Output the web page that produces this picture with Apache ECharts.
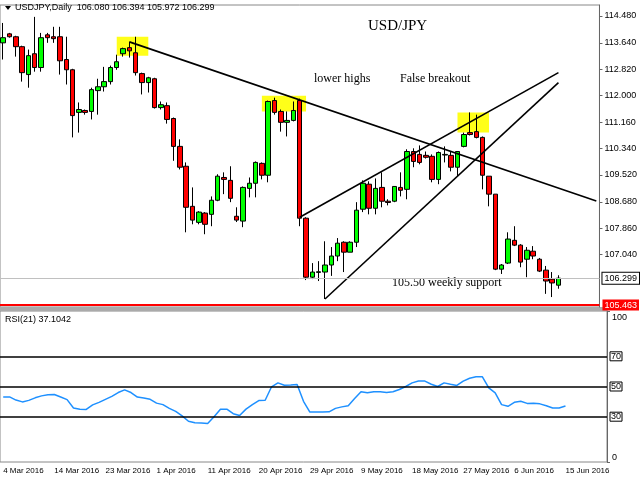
<!DOCTYPE html>
<html>
<head>
<meta charset="UTF-8">
<script src="https://cdn.jsdelivr.net/npm/echarts@6/dist/echarts.min.js"></script>
<style>html,body{margin:0;padding:0;background:#fff}#main{width:640px;height:480px}</style>
</head>
<body>
<div id="main"></div>
<script>
// candles: [open, close, low, high]
var candles = [
 [113.64,113.80,113.12,114.26],[113.92,113.83,113.80,113.95],[113.83,113.52,113.21,113.86],[113.52,112.71,112.43,113.55],
 [112.65,113.24,112.24,113.43],[113.30,112.87,112.74,114.45],[112.87,113.80,112.74,113.95],[113.89,113.80,113.64,113.95],
 [113.83,113.77,113.64,114.14],[113.83,113.08,112.65,114.14],[113.12,112.80,112.34,113.83],[112.80,111.37,110.69,112.83],
 [111.47,111.56,110.84,111.78],[111.53,111.47,111.40,111.56],[111.50,112.18,111.25,112.24],[112.15,112.27,111.40,112.52],
 [112.27,112.43,112.12,112.89],[112.43,112.87,112.34,112.93],[112.87,113.05,112.80,113.27],[113.30,113.46,113.21,113.49],
 [113.49,113.39,113.18,113.67],[113.33,112.71,112.62,113.83],[112.68,112.40,112.03,112.71],[112.40,112.55,112.09,112.58],
 [112.52,111.62,111.59,112.55],[111.62,111.71,111.56,111.81],[111.68,111.25,111.12,111.78],[111.28,110.41,109.96,111.31],
 [110.41,109.76,109.69,110.63],[109.79,108.51,107.73,109.91],[108.54,108.11,107.98,109.13],[108.04,108.36,107.98,108.39],
 [108.33,107.98,107.67,108.36],[108.29,108.73,107.92,108.85],[108.73,109.48,108.70,109.54],[109.44,109.38,108.92,109.60],
 [109.35,108.79,108.67,109.79],[108.23,108.11,108.05,108.51],[108.08,109.13,107.89,109.16],[109.10,109.26,108.82,109.44],
 [109.26,109.91,108.82,109.94],[109.88,109.51,109.38,109.91],[109.51,111.81,109.29,111.84],[111.84,111.47,111.40,111.93],
 [111.50,111.16,110.87,111.56],[111.16,111.22,110.72,111.50],[111.22,111.53,111.19,111.81],[111.84,108.17,107.92,111.90],
 [108.17,106.33,106.24,108.20],[106.33,106.49,106.27,106.77],[106.48,106.50,106.21,106.83],[106.49,106.71,105.65,107.45],
 [106.71,106.99,106.37,107.27],[106.99,107.39,106.83,107.55],[107.42,107.11,106.49,107.45],[107.11,107.42,107.11,107.45],
 [107.42,108.42,107.27,108.67],[108.45,109.26,108.36,109.35],[109.23,108.48,108.29,109.32],[108.48,109.10,108.29,109.41],
 [109.13,108.70,108.51,109.60],[108.70,108.66,108.57,108.76],[108.70,109.16,108.67,109.16],[109.13,109.04,108.85,109.60],
 [109.07,110.25,108.76,110.32],[110.25,109.94,109.76,110.35],[110.16,109.91,109.85,110.44],[110.13,110.07,110.03,110.25],
 [110.10,109.38,109.29,110.16],[109.38,110.22,109.23,110.25],[110.14,110.16,109.91,110.41],[110.13,109.76,109.63,110.25],
 [109.76,110.25,109.48,110.25],[110.41,110.78,110.38,110.84],[110.84,110.78,110.75,111.47],[110.87,110.69,110.66,111.40],
 [110.69,109.51,109.07,110.72],[109.48,108.92,108.54,109.48],[108.92,106.58,106.55,108.92],[106.58,106.71,106.43,106.74],
 [106.77,107.52,106.74,107.73],[107.48,107.33,107.30,107.92],[107.33,106.80,106.64,107.36],[106.89,107.17,106.33,107.27],
 [107.14,106.99,106.89,107.30],[106.89,106.52,106.49,106.93],[106.55,106.21,105.81,106.68],[106.27,106.15,105.71,106.49],
 [106.08,106.30,105.97,106.39]
];
var rsi = [43.1,43.1,41,39.8,40.8,42.5,43.8,44.6,44.7,43,41.3,35.8,35,34.8,37.8,39.5,41.5,43.5,46,47.8,46,43,42.4,41.5,39,
 38,35.5,33.5,30.5,27,26,25.8,25.5,30,35,35,32,30.8,35,38,40.7,40.9,49.8,52.4,50.8,51,51.3,40.2,33.1,33.1,33.1,33.2,35.5,
 36.5,37.3,42,46.5,45.8,46.5,46.5,46,46.5,48,50,52.4,53.6,53.6,51.5,50,52.4,51.5,50.7,53.6,55.5,56.4,56.4,49.1,45.8,38,
 36.9,39.5,40.2,38.8,38.9,38.5,37.3,35.8,35.8,37.1];
var dateLabels = ['4 Mar 2016','14 Mar 2016','23 Mar 2016','1 Apr 2016','11 Apr 2016','20 Apr 2016','29 Apr 2016',
 '9 May 2016','18 May 2016','27 May 2016','6 Jun 2016','15 Jun 2016'];
var priceTicks = [114.48,113.64,112.82,112.00,111.16,110.34,109.52,108.68,107.86,107.04];
var lastPrice = 106.299, supportPrice = 105.463;
// trend lines: [[idx, price],[idx, price]]
var trendLines = [
 [[20,113.67],[94.3,108.71]],
 [[50.9,105.65],[88,112.40]],
 [[46.9,108.20],[88.3,112.71]]
];
var boxes = [[[17.8,113.83],[23,113.24]],[[40.9,111.99],[48,111.50]],[[72,111.47],[77,110.84]]];

var cats = [];
for (var i = 0; i < 95; i++) cats.push(String(i));
var fnt = 'Liberation Sans';
var chart = echarts.init(document.getElementById('main'));
chart.setOption({
 animation: false,
 grid: [
  {left: 0, right: 33, top: 5, height: 302, show: true, borderColor: '#888', borderWidth: 1},
  {left: 0, right: 33, top: 311, height: 151, show: true, borderColor: '#888', borderWidth: 1}
 ],
 xAxis: [
  {type: 'category', data: cats, gridIndex: 0, axisLine: {show: false}, axisTick: {show: false}, axisLabel: {show: false}},
  {type: 'category', data: cats, gridIndex: 1, axisLine: {show: false},
   axisTick: {interval: function (i) { return i % 8 === 0 && i <= 88; }, lineStyle: {color: '#444'}, length: 3},
   axisLabel: {interval: function (i) { return i % 8 === 0 && i <= 88; }, align: 'left', margin: 5,
    fontFamily: fnt, fontSize: 8, color: '#000', hideOverlap: false,
    formatter: function (v) { var n = +v; return n % 8 === 0 && n <= 88 ? dateLabels[n / 8] : ''; }}}
 ],
 yAxis: [
  {type: 'value', gridIndex: 0, position: 'right', min: 105.40, max: 114.82, splitLine: {show: false},
   axisLine: {show: true, lineStyle: {color: '#666'}},
   axisTick: {show: true, customValues: priceTicks, length: 3},
   axisLabel: {customValues: priceTicks, fontFamily: fnt, fontSize: 9, color: '#000', margin: 5,
    formatter: function (v) { return v.toFixed(3); }}},
  {type: 'value', gridIndex: 1, position: 'right', min: 0, max: 100, splitLine: {show: false},
   axisLine: {show: true, lineStyle: {color: '#666'}},
   axisTick: {show: true, customValues: [0, 100], length: 3},
   axisLabel: {customValues: [3, 96], fontFamily: fnt, fontSize: 9, color: '#000', margin: 5,
    formatter: function (v) { return v > 50 ? '100' : '0'; }}}
 ],
 series: [
  {type: 'candlestick', xAxisIndex: 0, yAxisIndex: 0, data: candles, barWidth: 5, clip: false,
   itemStyle: {color: '#00ff00', color0: '#ff0000', borderColor: '#000', borderColor0: '#000', borderWidth: 1},
   markArea: {silent: true, itemStyle: {color: '#ffff00', opacity: 0.9},
    data: boxes.map(function (b) { return [{coord: b[0]}, {coord: b[1]}]; })},
   markLine: {silent: true, symbol: 'none', animation: false,
    data: trendLines.map(function (l) {
      return [{coord: l[0], lineStyle: {color: '#000', width: 1.6, type: 'solid'}, label: {show: false}}, {coord: l[1]}];
     }).concat([
      {yAxis: lastPrice, lineStyle: {color: '#c0c0c0', width: 1, type: 'solid'},
       label: {show: true, position: 'end', formatter: lastPrice.toFixed(3), fontFamily: fnt, fontSize: 9, color: '#000',
        backgroundColor: '#fff', borderColor: '#000', borderWidth: 1, padding: [1, 2], distance: 3}},
      {yAxis: supportPrice, lineStyle: {color: '#ff0000', width: 2, type: 'solid'},
       label: {show: true, position: 'end', formatter: supportPrice.toFixed(3), fontFamily: fnt, fontSize: 9, color: '#fff',
        backgroundColor: '#ff0000', padding: [1, 2], distance: 3}}
     ])}
  },
  {type: 'line', xAxisIndex: 1, yAxisIndex: 1, data: rsi, symbol: 'none', lineStyle: {color: '#1e90ff', width: 1.5},
   markLine: {silent: true, symbol: 'none',
    lineStyle: {color: '#000', width: 1.5, type: 'solid'},
    label: {position: 'end', fontFamily: fnt, fontSize: 9, color: '#000', borderColor: '#000', borderWidth: 1, padding: [0, 1], distance: 3},
    data: [{yAxis: 70}, {yAxis: 50}, {yAxis: 30}]}}
 ],
 graphic: [
  {type: 'rect', shape: {x: 0, y: 307, width: 607, height: 4}, style: {fill: '#aaa'}},
  {type: 'polygon', shape: {points: [[5, 6], [11, 6], [8, 10]]}, style: {fill: '#000'}},
  {type: 'text', left: 15, top: 3, style: {text: 'USDJPY,Daily  106.080 106.394 105.972 106.299', font: '9px ' + fnt, fill: '#000'}},
  {type: 'text', left: 5, top: 315, style: {text: 'RSI(21) 37.1042', font: '9px ' + fnt, fill: '#000'}},
  {type: 'text', left: 368, top: 19, style: {text: 'USD/JPY', font: '15px "Liberation Serif"', fill: '#000'}},
  {type: 'text', left: 314, top: 73, style: {text: 'lower highs', font: '12px "Liberation Serif"', fill: '#000'}},
  {type: 'text', left: 400, top: 73, style: {text: 'False breakout', font: '12px "Liberation Serif"', fill: '#000'}},
  {type: 'text', left: 392, top: 277, style: {text: '105.50 weekly support', font: '12px "Liberation Serif"', fill: '#000'}}
 ]
});
</script>
</body>
</html>
